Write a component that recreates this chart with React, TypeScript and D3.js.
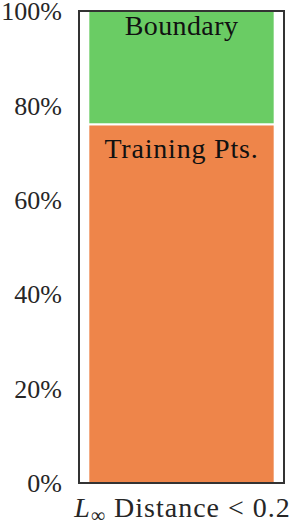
import React from "react";
import * as d3 from "d3";

const categories = ["L∞ Distance < 0.2"];
const trainingPts = [0.76];
const boundary = [0.24];
const seriesNames = ["Training Pts.", "Boundary"];
const yTicks = [0, 0.2, 0.4, 0.6, 0.8, 1.0];

const W = 292;
const H = 524;
const margin = { left: 79, right: 8, top: 11, bottom: 41 };
const FONT = "'Liberation Serif', 'DejaVu Serif', serif";
const TEXT = "#262626";

export default function App() {
  const x = d3
    .scaleBand<string>()
    .domain(categories)
    .range([margin.left, W - margin.right])
    .paddingInner(0)
    .paddingOuter(0.05);
  const y = d3.scaleLinear().domain([0, 1]).range([H - margin.bottom, margin.top]);
  const fmt = d3.format(".0%");

  const stack = d3
    .stack<number>()
    .keys([0, 1])
    .value((i, k) => (k === 0 ? trainingPts[i] : boundary[i]));
  const layers = stack(categories.map((_, i) => i));
  const colors = ["#EE854A", "#6ACC64"];
  const labelOffset = [33.5, 24];
  const labelSpacing = [0.8, 0.4];

  return (
    <svg
      width={W}
      height={H}
      style={{ position: "absolute", left: 0, top: 0, background: "#fff" }}
    >
      {layers.map((layer, li) =>
        layer.map((d, i) => (
          <g key={`${li}-${i}`}>
            <rect
              x={x(categories[i])!}
              width={x.bandwidth()}
              y={y(d[1])}
              height={y(d[0]) - y(d[1])}
              fill={colors[li]}
              stroke="#fff"
              strokeWidth={2}
            />
            <text
              x={x(categories[i])! + x.bandwidth() / 2}
              y={y(d[1]) + labelOffset[li]}
              textAnchor="middle"
              fontFamily={FONT}
              fontSize={28}
              letterSpacing={labelSpacing[li]}
              fill="#111"
            >
              {seriesNames[li]}
            </text>
          </g>
        ))
      )}
      <rect
        x={margin.left}
        y={margin.top}
        width={W - margin.right - margin.left}
        height={H - margin.bottom - margin.top}
        fill="none"
        stroke="#333"
        strokeWidth={2}
      />
      {yTicks.map((t) => (
        <text
          key={t}
          x={margin.left - 17}
          y={y(t)}
          dy="0.35em"
          textAnchor="end"
          fontFamily={FONT}
          fontSize={26}
          fill={TEXT}
        >
          {fmt(t)}
        </text>
      ))}
      {categories.map((c) => (
        <text
          key={c}
          x={x(c)! + x.bandwidth() / 2 + 1}
          y={H - 7}
          textAnchor="middle"
          fontFamily={FONT}
          fontSize={28}
          letterSpacing={1}
          fill={TEXT}
        >
          <tspan fontStyle="italic">{c.slice(0, 1)}</tspan>
          <tspan fontSize={20} dy={5}>{c.slice(1, 2)}</tspan>
          <tspan dy={-5}>{c.slice(2)}</tspan>
        </text>
      ))}
    </svg>
  );
}
